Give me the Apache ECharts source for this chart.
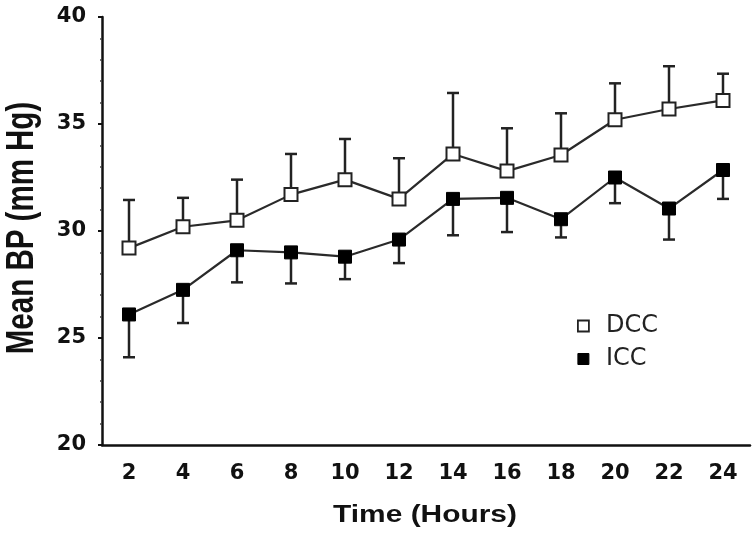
<!DOCTYPE html>
<html><head><meta charset="utf-8">
<script src="https://cdn.jsdelivr.net/npm/echarts@6/dist/echarts.min.js"></script>
<style>html,body{margin:0;padding:0;background:#fff}#c{width:756px;height:539px}</style>
</head><body><div id="c"></div>
<script>
const hours = ['2','4','6','8','10','12','14','16','18','20','22','24'];
const dccMean = [29.2, 30.2, 30.5, 31.7, 32.4, 31.5, 33.6, 32.8, 33.55, 35.2, 35.7, 36.1];
const dccUpper = [31.45, 31.55, 32.4, 33.6, 34.3, 33.4, 36.45, 34.8, 35.5, 36.9, 37.7, 37.35];
const iccMean = [26.1, 27.25, 29.1, 29.0, 28.8, 29.6, 31.5, 31.55, 30.55, 32.5, 31.05, 32.85];
const iccLower = [24.1, 25.7, 27.6, 27.55, 27.75, 28.5, 29.8, 29.95, 29.7, 31.3, 29.6, 31.5];
const yTicks = [20, 25, 30, 35, 40];

const chart = echarts.init(document.getElementById('c'), null, {renderer: 'canvas'});
const ink = '#111';
const tickFont = {fontFamily: 'DejaVu Sans', fontWeight: 'bold', fontSize: 21, color: ink};

function errBar(means, ends) {
  return means.map((m, i) => [i, m, ends[i]]);
}
function renderErr(params, api) {
  const x = api.value(0);
  const p0 = api.coord([x, api.value(1)]);
  const p1 = api.coord([x, api.value(2)]);
  const half = 6;
  const st = {stroke: '#222', lineWidth: 2.5};
  return {type: 'group', children: [
    {type: 'line', shape: {x1: p0[0], y1: p0[1], x2: p1[0], y2: p1[1]}, style: st},
    {type: 'line', shape: {x1: p1[0] - half, y1: p1[1], x2: p1[0] + half, y2: p1[1]}, style: st}
  ]};
}

chart.setOption({
  animation: false,
  backgroundColor: '#fff',
  grid: {left: 102, right: 6, top: 17, bottom: 94},
  xAxis: {
    type: 'category', data: hours, boundaryGap: true,
    axisLine: {lineStyle: {color: ink, width: 2.5}},
    axisTick: {alignWithLabel: true, length: 3, lineStyle: {color: ink, width: 2}},
    axisLabel: Object.assign({margin: 18}, tickFont),
    splitLine: {show: false}
  },
  yAxis: {
    type: 'value', min: 20, max: 40, interval: 5,
    axisLine: {show: true, lineStyle: {color: ink, width: 2.5}},
    axisTick: {show: true, length: 4, lineStyle: {color: ink, width: 2}},
    minorTick: {show: true, splitNumber: 5, length: 2, lineStyle: {color: '#444', width: 1.5}},
    axisLabel: Object.assign({margin: 16, formatter: v => yTicks.includes(v) ? String(v) : ''}, tickFont),
    splitLine: {show: false}
  },
  legend: {
    orient: 'vertical', left: 572, top: 309, itemGap: 9,
    itemWidth: 11, itemHeight: 11,
    textStyle: {fontFamily: 'DejaVu Sans', fontSize: 24, color: '#222', padding: [0, 0, 0, 12]},
    data: [
      {name: 'DCC', icon: 'rect', itemStyle: {color: '#fff', borderColor: '#222', borderWidth: 1.8}},
      {name: 'ICC', icon: 'rect', itemStyle: {color: '#000', borderColor: '#000', borderWidth: 1}}
    ]
  },
  graphic: [
    {type: 'text', x: 22, y: 228, rotation: Math.PI / 2, scaleY: 1.3,
     style: {text: 'Mean BP (mm Hg)', fontFamily: 'Liberation Sans', fontWeight: 'bold', fontSize: 29.5, fill: ink, align: 'center', verticalAlign: 'middle'}},
    {type: 'text', x: 425, y: 516, scaleX: 1.3,
     style: {text: 'Time (Hours)', fontFamily: 'Liberation Sans', fontWeight: 'bold', fontSize: 23, fill: ink, align: 'center', verticalAlign: 'middle'}}
  ],
  series: [
    {type: 'custom', name: 'DCC err', renderItem: renderErr, data: errBar(dccMean, dccUpper), z: 1, silent: true,
     encode: {x: 0, y: [1, 2]}},
    {type: 'custom', name: 'ICC err', renderItem: renderErr, data: errBar(iccMean, iccLower), z: 1, silent: true,
     encode: {x: 0, y: [1, 2]}},
    {type: 'line', name: 'DCC', data: dccMean, symbol: 'rect', symbolSize: 13, z: 3,
     lineStyle: {color: '#2a2a2a', width: 2.2},
     itemStyle: {color: '#fff', borderColor: '#222', borderWidth: 2}},
    {type: 'line', name: 'ICC', data: iccMean, symbol: 'rect', symbolSize: 13, z: 3,
     lineStyle: {color: '#2a2a2a', width: 2.2},
     itemStyle: {color: '#000', borderColor: '#000', borderWidth: 1}}
  ]
});
</script></body></html>
